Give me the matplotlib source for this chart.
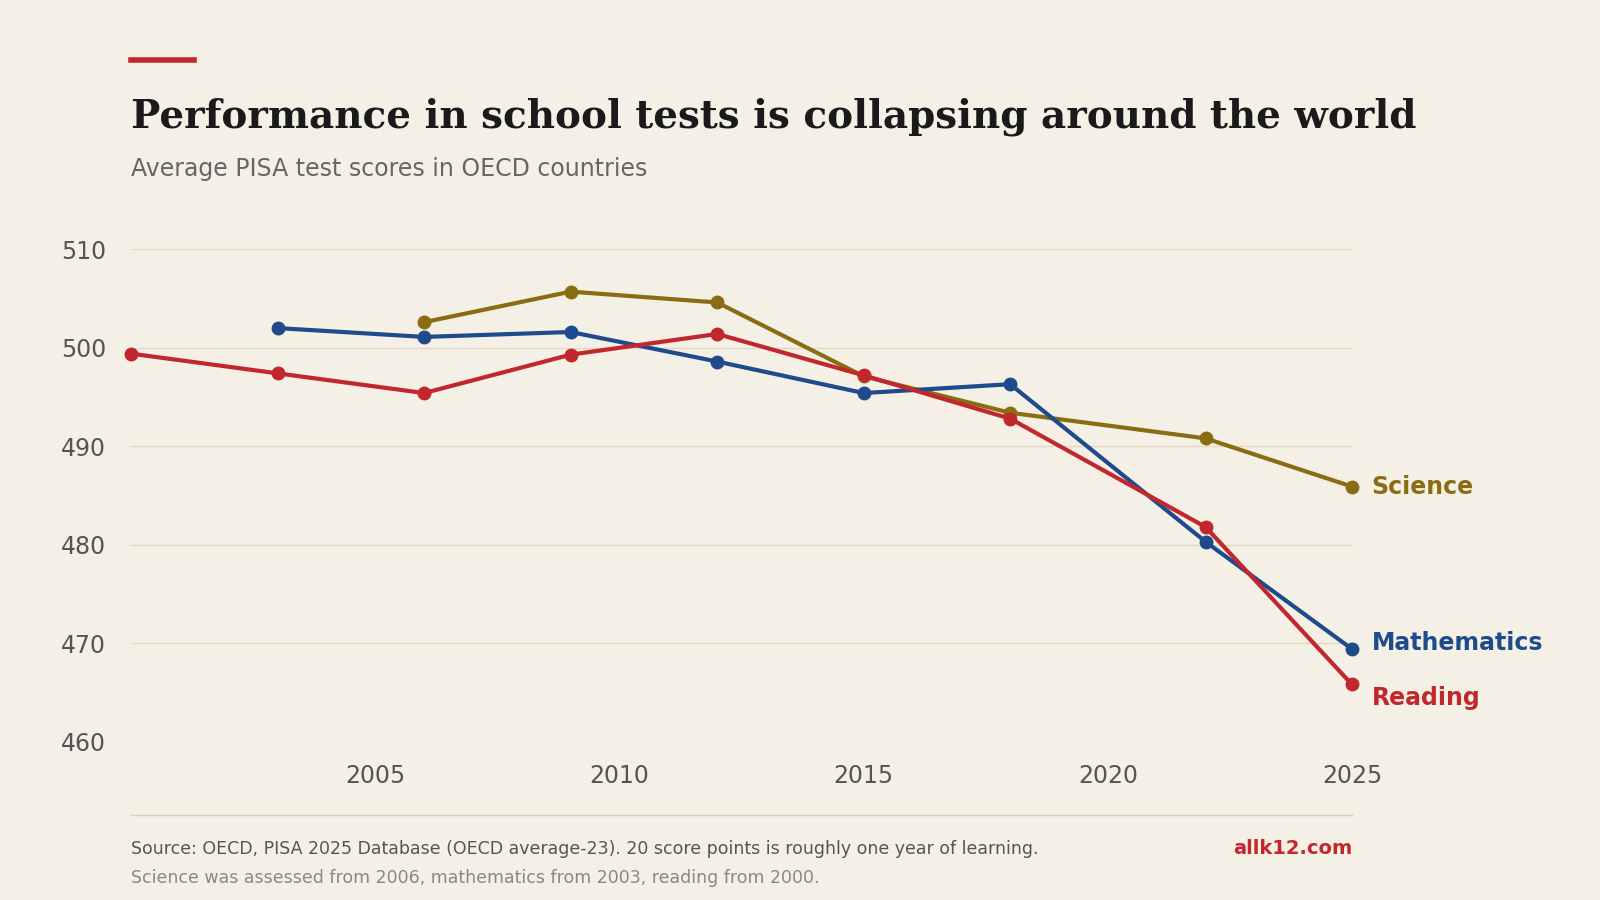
import matplotlib
matplotlib.use("Agg")
import matplotlib.pyplot as plt
from matplotlib.lines import Line2D

years_read = [2000, 2003, 2006, 2009, 2012, 2015, 2018, 2022, 2025]
reading = [499.4, 497.4, 495.4, 499.3, 501.4, 497.2, 492.8, 481.8, 465.8]
years_math = [2003, 2006, 2009, 2012, 2015, 2018, 2022, 2025]
maths = [502.0, 501.1, 501.6, 498.6, 495.4, 496.3, 480.3, 469.4]
years_sci = [2006, 2009, 2012, 2015, 2018, 2022, 2025]
science = [502.6, 505.7, 504.6, 497.1, 493.4, 490.8, 485.9]
yticks = [460, 470, 480, 490, 500, 510]
xticks = [2005, 2010, 2015, 2020, 2025]

BG = "#f5f0e6"
RED, BLUE, GOLD = "#c1272d", "#1f4a8c", "#8a6d12"

fig = plt.figure(figsize=(16, 9), dpi=100, facecolor=BG)
ax = fig.add_axes([0.082, 0.176, 0.763, 0.547], facecolor=BG)
ax.set_xlim(2000, 2025)
ax.set_ylim(460, 510)
for s in ax.spines.values():
    s.set_visible(False)
ax.set_yticks(yticks)
ax.set_xticks(xticks)
ax.grid(axis="y", color="#e3d9c3", lw=1)
ax.tick_params(length=0, labelsize=17, colors="#555555")
ax.tick_params(axis="y", pad=18)
ax.tick_params(axis="x", pad=16)

for x, y, c in [(years_sci, science, GOLD),
                (years_math, maths, BLUE),
                (years_read, reading, RED)]:
    ax.plot(x, y, color=c, lw=3, marker="o", ms=9, clip_on=False, zorder=3)
ax.annotate("Science", (years_sci[-1], science[-1]), xytext=(14, 0), textcoords="offset points",
            color=GOLD, fontsize=17, fontweight="bold", va="center")
ax.annotate("Mathematics", (years_math[-1], maths[-1]), xytext=(14, 4), textcoords="offset points",
            color=BLUE, fontsize=17, fontweight="bold", va="center")
ax.annotate("Reading", (years_read[-1], reading[-1]), xytext=(14, -10), textcoords="offset points",
            color=RED, fontsize=17, fontweight="bold", va="center")

fig.add_artist(Line2D([0.082, 0.121], [0.933, 0.933], color=RED, lw=4))
fig.text(0.082, 0.87, "Performance in school tests is collapsing around the world",
         fontsize=28, fontweight="bold", family="DejaVu Serif", color="#1a1a1a", va="center")
fig.text(0.082, 0.812, "Average PISA test scores in OECD countries", fontsize=17,
         color="#666666", va="center")
fig.add_artist(Line2D([0.082, 0.845], [0.094, 0.094], color="#d9cfba", lw=1))
fig.text(0.082, 0.057, "Source: OECD, PISA 2025 Database (OECD average-23). 20 score points is roughly one year of learning.",
         fontsize=12.5, color="#555555", va="center")
fig.text(0.082, 0.024, "Science was assessed from 2006, mathematics from 2003, reading from 2000.",
         fontsize=12.5, color="#888888", va="center")
fig.text(0.845, 0.057, "allk12.com", fontsize=14, color=RED, fontweight="bold", ha="right", va="center")

fig.savefig("out.png", facecolor=BG)
